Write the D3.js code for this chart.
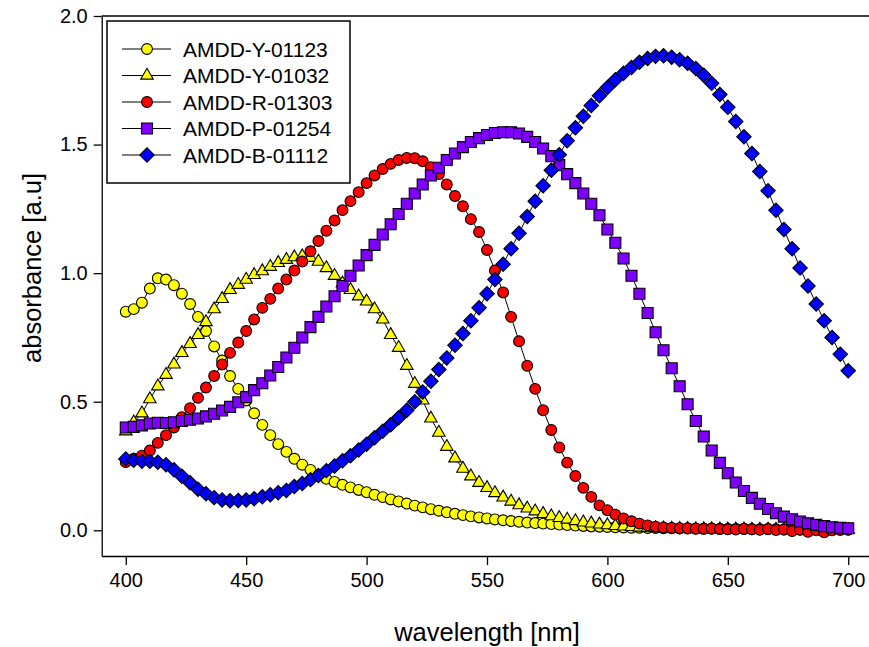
<!DOCTYPE html>
<html>
<head>
<meta charset="utf-8">
<script src="https://cdn.jsdelivr.net/npm/d3@7"></script>
<style>
  html, body { margin: 0; padding: 0; background: #fff; }
  svg { display: block; font-family: "Liberation Sans", Arial, sans-serif; }
</style>
</head>
<body>
<div id="canvas"></div>
<script>
// wavelength grid (nm)
const wavelength = [
  400,403.3,406.7, 410,413.3,416.7, 420,423.3,426.7, 430,433.3,436.7,
  440,443.3,446.7, 450,453.3,456.7, 460,463.3,466.7, 470,473.3,476.7,
  480,483.3,486.7, 490,493.3,496.7, 500,503.3,506.7, 510,513.3,516.7,
  520,523.3,526.7, 530,533.3,536.7, 540,543.3,546.7, 550,553.3,556.7,
  560,563.3,566.7, 570,573.3,576.7, 580,583.3,586.7, 590,593.3,596.7,
  600,603.3,606.7, 610,613.3,616.7, 620,623.3,626.7, 630,633.3,636.7,
  640,643.3,646.7, 650,653.3,656.7, 660,663.3,666.7, 670,673.3,676.7,
  680,683.3,686.7, 690,693.3,696.7, 700
];

const names = ["AMDD-Y-01123", "AMDD-Y-01032", "AMDD-R-01303", "AMDD-P-01254", "AMDD-B-01112"];

const y01123 = [
  0.85,0.86,0.885, 0.94,0.98,0.975, 0.953,0.92,0.88, 0.83,0.775,0.715,
  0.66,0.60,0.55, 0.505,0.455,0.41, 0.37,0.335,0.305, 0.278,0.255,0.235,
  0.215,0.20,0.188, 0.177,0.167,0.157, 0.148,0.138,0.129, 0.12,0.112,0.104,
  0.096,0.089,0.082, 0.076,0.07,0.064, 0.059,0.054,0.05, 0.046,0.042,0.039,
  0.036,0.033,0.03, 0.028,0.026,0.024, 0.022,0.02,0.018, 0.017,0.015,0.014,
  0.013,0.012,0.011, 0.01,0.01,0.009, 0.009,0.008,0.008, 0.007,0.007,0.006,
  0.006,0.006,0.005, 0.005,0.005,0.005, 0.004,0.004,0.004, 0.004,0.003,0.003,
  0.003,0.003,0.003, 0.002,0.002,0.002, 0.002
];
const y01032 = [
  0.385,0.42,0.455, 0.51,0.56,0.605, 0.645,0.69,0.725, 0.76,0.81,0.86,
  0.90,0.935,0.955, 0.975,0.993,1.008, 1.025,1.04,1.052, 1.062,1.066,1.06,
  1.045,1.02,0.99, 0.96,0.935,0.91, 0.89,0.86,0.82, 0.76,0.71,0.64,
  0.57,0.505,0.435, 0.38,0.325,0.28, 0.24,0.21,0.185, 0.165,0.145,0.128,
  0.112,0.098,0.085, 0.074,0.064,0.055, 0.048,0.042,0.036, 0.031,0.027,0.023,
  0.02,0.017,0.015, 0.013,0.011,0.01, 0.009,0.008,0.007, 0.006,0.006,0.005,
  0.005,0.005,0.004, 0.004,0.004,0.004, 0.003,0.003,0.003, 0.003,0.003,0.003,
  0.002,0.002,0.002, 0.002,0.002,0.002, 0.002
];
const r01303 = [
  0.265,0.278,0.29, 0.31,0.34,0.37, 0.40,0.44,0.475, 0.515,0.555,0.60,
  0.645,0.69,0.73, 0.775,0.82,0.865, 0.90,0.94,0.975, 1.01,1.045,1.085,
  1.125,1.165,1.205, 1.245,1.28,1.315, 1.35,1.38,1.405, 1.425,1.44,1.448,
  1.447,1.435,1.412, 1.385,1.345,1.30, 1.26,1.21,1.16, 1.09,1.01,0.925,
  0.83,0.735,0.64, 0.55,0.467,0.39, 0.322,0.263,0.211, 0.165,0.13,0.097,
  0.078,0.061,0.046, 0.035,0.026,0.019, 0.014,0.011,0.009, 0.008,0.008,0.007,
  0.006,0.007,0.005, 0.004,0.003,0.006, 0.004,0.002,0.005, 0.001,0.003,-0.003,
  0.002,-0.006,0.0, -0.008,0.0,0.002, 0.003
];
const p01254 = [
  0.40,0.402,0.408, 0.415,0.418,0.417, 0.42,0.425,0.43, 0.435,0.443,0.453,
  0.466,0.48,0.498, 0.518,0.545,0.572, 0.602,0.635,0.672, 0.71,0.75,0.79,
  0.83,0.87,0.91, 0.95,0.99,1.03, 1.07,1.11,1.15, 1.19,1.23,1.27,
  1.31,1.345,1.38, 1.41,1.44,1.465, 1.49,1.51,1.525, 1.537,1.545,1.548,
  1.548,1.543,1.53, 1.51,1.485,1.455, 1.42,1.385,1.35, 1.31,1.27,1.225,
  1.17,1.118,1.057, 0.99,0.92,0.845, 0.77,0.70,0.63, 0.56,0.49,0.425,
  0.365,0.31,0.262, 0.222,0.186,0.153, 0.126,0.103,0.083, 0.066,0.053,0.043,
  0.034,0.027,0.021, 0.016,0.012,0.01, 0.008
];
const b01112 = [
  0.277,0.272,0.268, 0.268,0.265,0.255, 0.235,0.21,0.185, 0.16,0.142,0.127,
  0.118,0.115,0.116, 0.118,0.123,0.13, 0.138,0.146,0.155, 0.17,0.182,0.197,
  0.213,0.232,0.25, 0.27,0.29,0.312, 0.335,0.36,0.385, 0.41,0.438,0.467,
  0.50,0.538,0.58, 0.625,0.67,0.72, 0.765,0.815,0.865, 0.92,0.975,1.035,
  1.095,1.155,1.22, 1.28,1.34,1.40, 1.46,1.515,1.565, 1.61,1.652,1.69,
  1.722,1.752,1.777, 1.80,1.82,1.835, 1.843,1.845,1.84, 1.83,1.816,1.796,
  1.77,1.738,1.695, 1.645,1.59,1.53, 1.465,1.395,1.32, 1.245,1.17,1.095,
  1.02,0.95,0.88, 0.815,0.75,0.685, 0.62
];

const xTicks = [400, 450, 500, 550, 600, 650, 700];
const yTicks = [0, 0.5, 1.0, 1.5, 2.0];

const width = 869, height = 647;
const margin = { top: 16, left: 101.7, bottom: 91, right: -3.3 };

const series = [
  { name: names[0], values: y01123, color: "#ffff00", shape: "circle" },
  { name: names[1], values: y01032, color: "#ffff00", shape: "triangle" },
  { name: names[2], values: r01303, color: "#ff0000", shape: "circle" },
  { name: names[3], values: p01254, color: "#8000ff", shape: "square" },
  { name: names[4], values: b01112, color: "#0000ff", shape: "diamond" }
];

const svg = d3.select("#canvas").append("svg")
  .attr("width", width).attr("height", height)
  .attr("viewBox", [0, 0, width, height]);

const x = d3.scaleLinear().domain([390, 710])
  .range([margin.left, width - margin.right]);
const y = d3.scaleLinear().domain([-0.1, 2.0])
  .range([height - margin.bottom, margin.top]);

const symbols = {
  circle: d3.symbol().type(d3.symbolCircle).size(92),
  triangle: d3.symbol().type(d3.symbolTriangle).size(68),
  square: d3.symbol().type(d3.symbolSquare).size(121),
  diamond: d3.symbol().type(d3.symbolSquare).size(104)
};
const rot = s => s === "diamond" ? " rotate(45)" : "";

// axes
const gx = svg.append("g")
  .attr("transform", `translate(0,${y.range()[0]})`)
  .call(d3.axisBottom(x).tickValues(xTicks).tickSize(9).tickSizeOuter(0).tickPadding(8));
const gy = svg.append("g")
  .attr("transform", `translate(${x.range()[0]},0)`)
  .call(d3.axisLeft(y).tickValues(yTicks).tickFormat(d3.format(".1f")).tickSize(8).tickSizeOuter(0).tickPadding(6));
[gx, gy].forEach(g => {
  g.selectAll("text").attr("font-size", 20).attr("fill", "#000")
    .attr("font-family", "Liberation Sans, Arial, sans-serif");
  g.selectAll("line, path").attr("stroke", "#000").attr("stroke-width", 1.3);
});

// top frame line
svg.append("line")
  .attr("x1", x.range()[0]).attr("x2", width)
  .attr("y1", y.range()[1]).attr("y2", y.range()[1])
  .attr("stroke", "#000").attr("stroke-width", 1.5);

// series
const line = d3.line().x((d, i) => x(wavelength[i])).y(d => y(d));
series.forEach(s => {
  const g = svg.append("g");
  g.append("path").datum(s.values)
    .attr("d", line).attr("fill", "none")
    .attr("stroke", "#000").attr("stroke-width", 1);
  g.selectAll("path.m").data(s.values).join("path")
    .attr("class", "m")
    .attr("d", symbols[s.shape])
    .attr("transform", (d, i) => `translate(${x(wavelength[i])},${y(d)})${rot(s.shape)}`)
    .attr("fill", s.color).attr("stroke", "#000").attr("stroke-width", 1.1);
});

// axis titles
svg.append("text")
  .attr("x", 487).attr("y", 641)
  .attr("text-anchor", "middle").attr("font-size", 25.5)
  .text("wavelength [nm]");
svg.append("text")
  .attr("transform", "translate(41,268) rotate(-90)")
  .attr("text-anchor", "middle").attr("font-size", 25.5)
  .text("absorbance [a.u]");

// legend
const legend = svg.append("g");
legend.append("rect")
  .attr("x", 107).attr("y", 21).attr("width", 243).attr("height", 162)
  .attr("fill", "#fff").attr("stroke", "#000").attr("stroke-width", 1.5);
series.forEach((s, i) => {
  const ly = 49 + i * 26.5;
  legend.append("line")
    .attr("x1", 122).attr("x2", 171).attr("y1", ly).attr("y2", ly)
    .attr("stroke", "#000").attr("stroke-width", 1);
  legend.append("path")
    .attr("d", symbols[s.shape])
    .attr("transform", `translate(147,${ly})${rot(s.shape)}`)
    .attr("fill", s.color).attr("stroke", "#000").attr("stroke-width", 1.1);
  legend.append("text")
    .attr("x", 183).attr("y", ly + 7.5)
    .attr("font-size", 21).text(s.name);
});
</script>
</body>
</html>
